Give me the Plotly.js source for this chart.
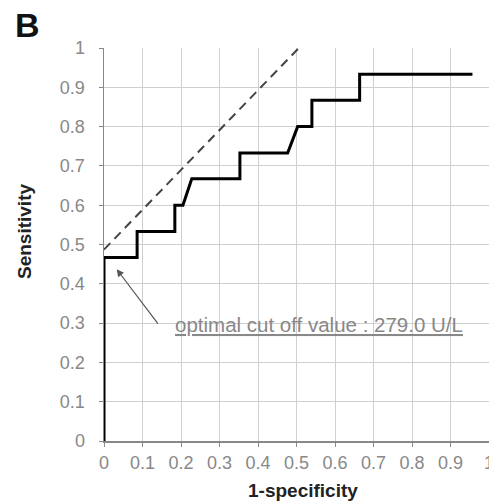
<!DOCTYPE html>
<html>
<head>
<meta charset="utf-8">
<script src="https://cdn.plot.ly/plotly-3.0.1.min.js"></script>
<style>
  html, body { margin: 0; padding: 0; background: #fff; }
  #chart { width: 489px; height: 504px; }
</style>
</head>
<body>
<div id="chart"></div>
<script>
// ROC curve (1-specificity, sensitivity)
const rocX = [0, 0, 0.086, 0.086, 0.184, 0.184, 0.205, 0.228, 0.353, 0.353, 0.477, 0.503, 0.54, 0.54, 0.664, 0.664, 0.957];
const rocY = [0, 0.467, 0.467, 0.533, 0.533, 0.6, 0.6, 0.667, 0.667, 0.733, 0.733, 0.8, 0.8, 0.867, 0.867, 0.933, 0.933];
// dashed reference line
const refX = [0, 0.506];
const refY = [0.487, 1];
// tick values / labels
const tickVals = [0, 0.1, 0.2, 0.3, 0.4, 0.5, 0.6, 0.7, 0.8, 0.9, 1];
const tickText = ["0", "0.1", "0.2", "0.3", "0.4", "0.5", "0.6", "0.7", "0.8", "0.9", "1"];
// annotation
const cutPoint = [0.033, 0.437];
const arrowTail = [0.143, 0.295];
const cutLabel = "optimal cut off value : 279.0 U/L";
const panelLabel = "B";
const xTitle = "1-specificity";
const yTitle = "Sensitivity";

const FONT = "Liberation Sans, Arial, sans-serif";

const traces = [
  {
    x: refX, y: refY, type: "scatter", mode: "lines",
    line: { color: "#444", width: 2, dash: "9px,6px" },
    hoverinfo: "skip", showlegend: false
  },
  {
    x: rocX, y: rocY, type: "scatter", mode: "lines",
    line: { color: "#000", width: 3 },
    showlegend: false, cliponaxis: false
  }
];

const axisCommon = {
  range: [0, 1],
  tickmode: "array",
  tickvals: tickVals,
  ticktext: tickText,
  showgrid: true,
  gridcolor: "#cfcfcf",
  gridwidth: 1,
  zeroline: false,
  showline: true,
  linecolor: "#888",
  linewidth: 1.5,
  ticks: "outside",
  ticklen: 4,
  tickcolor: "#888",
  tickfont: { family: FONT, size: 18, color: "#888" },
  ticklabeloverflow: "allow",
  fixedrange: true
};

const layout = {
  width: 489, height: 504,
  margin: { l: 104, r: 0, t: 48, b: 63 },
  paper_bgcolor: "#fff",
  plot_bgcolor: "#fff",
  font: { family: FONT },
  xaxis: Object.assign({}, axisCommon, { ticklabelstandoff: 1 }),
  yaxis: Object.assign({}, axisCommon, { ticklabelstandoff: 10 }),
  annotations: [
    {
      x: cutPoint[0], y: cutPoint[1], xref: "x", yref: "y",
      ax: arrowTail[0], ay: arrowTail[1], axref: "x", ayref: "y",
      text: "", showarrow: true, arrowhead: 2, arrowsize: 1.2, arrowwidth: 1.2,
      arrowcolor: "#555", standoff: 0, startstandoff: 0
    },
    {
      x: 0.18, y: 0.297, xref: "x", yref: "y",
      text: "<u>" + cutLabel + "</u>", showarrow: false,
      xanchor: "left", yanchor: "middle",
      font: { family: FONT, size: 20.5, color: "#888" }
    },
    {
      x: -0.199, y: 1.058, xref: "paper", yref: "paper",
      xanchor: "center", yanchor: "middle",
      text: "<b>" + panelLabel + "</b>", showarrow: false,
      font: { family: FONT, size: 34, color: "#111" }
    },
    {
      x: 0.517, y: -0.125, xref: "paper", yref: "paper",
      xanchor: "center", yanchor: "middle",
      text: "<b>" + xTitle + "</b>", showarrow: false,
      font: { family: FONT, size: 19, color: "#222" }
    },
    {
      x: -0.205, y: 0.532, xref: "paper", yref: "paper",
      xanchor: "center", yanchor: "middle", textangle: -90,
      text: "<b>" + yTitle + "</b>", showarrow: false,
      font: { family: FONT, size: 19, color: "#222" }
    }
  ]
};

Plotly.newPlot("chart", traces, layout, { displayModeBar: false, staticPlot: true });
</script>
</body>
</html>
